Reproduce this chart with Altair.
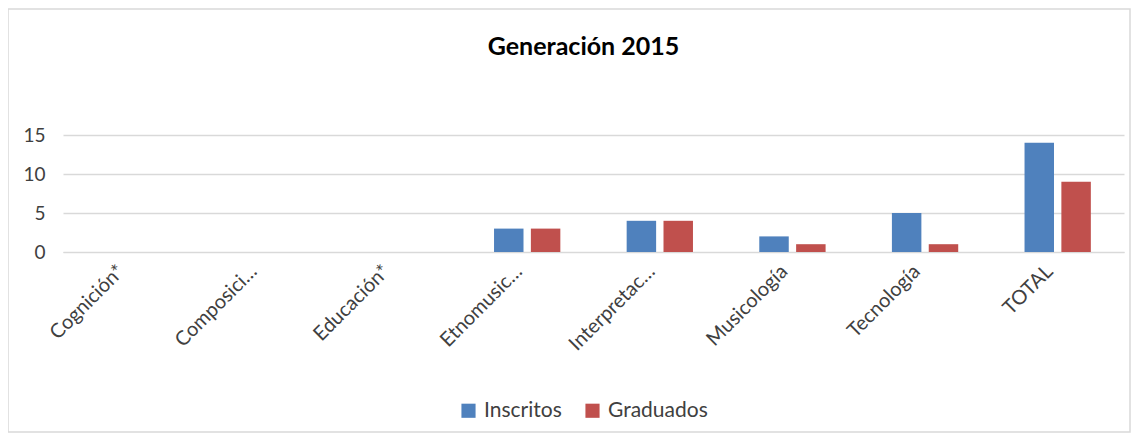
import altair as alt
import pandas as pd

categories = ["Cognición*", "Composici…", "Educación*", "Etnomusic…",
              "Interpretac…", "Musicología", "Tecnología", "TOTAL"]
inscritos = [0, 0, 0, 3, 4, 2, 5, 14]
graduados = [0, 0, 0, 3, 4, 1, 1, 9]
series = ["Inscritos", "Graduados"]
colors = ["#4F81BD", "#C0504D"]

rows = []
for c, a, b in zip(categories, inscritos, graduados):
    rows.append({"cat": c, "serie": "Inscritos", "val": a})
    rows.append({"cat": c, "serie": "Graduados", "val": b})
df = pd.DataFrame(rows)

FONT = "Lato"
W, H = 1061, 117

bars = alt.Chart(df).mark_bar().encode(
    x=alt.X("cat:N", sort=categories,
            scale=alt.Scale(paddingInner=0.5, paddingOuter=0.25),
            axis=alt.Axis(title=None, labelAngle=-45, labelAlign="right",
                          labelBaseline="middle", labelFontSize=20,
                          labelColor="#404040", labelFont=FONT,
                          ticks=False, domainColor="#D9D9D9", labelPadding=16,
                          labelOffset=-8, labelLimit=200)),
    xOffset=alt.XOffset("serie:N", sort=series,
                        scale=alt.Scale(paddingInner=0.2, paddingOuter=0)),
    y=alt.Y("val:Q", scale=alt.Scale(domain=[0, 15]),
            axis=alt.Axis(title=None, values=[0, 5, 10, 15], labelFontSize=19,
                          labelColor="#404040", labelFont=FONT, ticks=False,
                          domain=False, gridColor="#D9D9D9", gridWidth=1.3,
                          labelPadding=18)),
    color=alt.Color("serie:N", sort=series,
                    scale=alt.Scale(domain=series, range=colors),
                    legend=alt.Legend(title=None, orient="none", direction="horizontal",
                                      legendX=395, legendY=265, symbolType="square",
                                      symbolSize=200, symbolStrokeWidth=0,
                                      labelFontSize=21, labelColor="#404040",
                                      labelFont=FONT, columnPadding=20,
                                      labelOffset=5)),
)

border = alt.Chart(pd.DataFrame({"a": [0]})).mark_rect(
    fill=None, stroke="#D9D9D9", strokeWidth=1.5, clip=False
).encode(
    x=alt.value(-55), x2=alt.value(W + 6),
    y=alt.value(-126), y2=alt.value(H + 180),
)

chart = alt.layer(bars, border).properties(
    width=W, height=H,
    title=alt.TitleParams("Generación 2015", fontSize=25, fontWeight="bold",
                          font=FONT, color="#000000", anchor="middle",
                          offset=-52, dx=-10),
    autosize=alt.AutoSizeParams(type="none"),
    padding={"left": 55, "top": 127, "right": 7, "bottom": 181},
).configure_view(stroke=None)

chart.save("out.html", embed_options={"renderer": "svg", "actions": False})
